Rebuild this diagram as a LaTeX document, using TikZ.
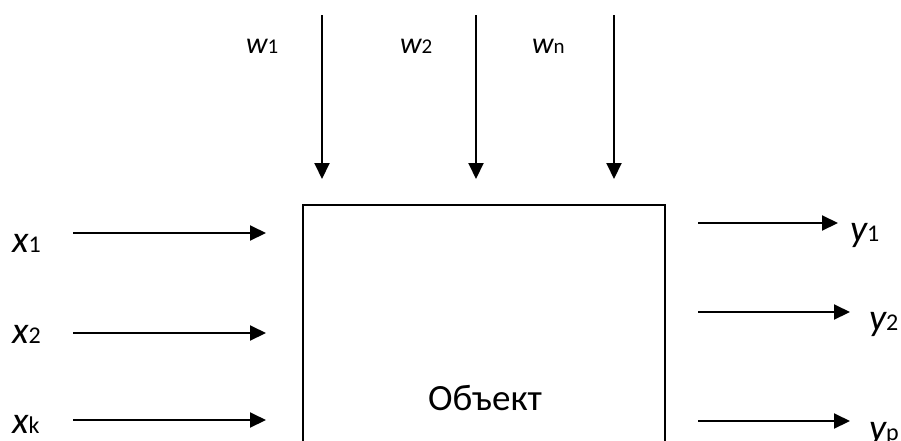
\documentclass[tikz,border=0pt]{standalone}
\usepackage{fontspec}
\setmainfont{Carlito}
\usetikzlibrary{arrows.meta}
\newcommand{\biglbl}[2]{{\fontsize{38}{40}\selectfont\itshape #1}{\fontsize{24}{26}\selectfont #2}}
\newcommand{\smlbl}[2]{{\fontsize{30}{32}\selectfont\itshape #1}{\fontsize{21}{22}\selectfont #2}}
\begin{document}
\begin{tikzpicture}[x=1pt,y=-1pt,
  arr/.style={line width=2pt,-{Triangle[length=16pt,width=15pt]}},
  lbl/.style={anchor=base west,inner sep=0pt,text depth=0pt}]
\useasboundingbox (0,0) rectangle (901,440);
\clip (0,0) rectangle (901,440);
% object box
\draw[line width=1.3pt] (303,205) rectangle (665,480);
\node[anchor=base,inner sep=0pt,font=\fontsize{37}{40}\selectfont] (obj) at (485,410) {Объект};
% connector end points
\coordinate (x1s) at (73,233);  \coordinate (x1e) at (266,233);
\coordinate (x2s) at (73,333);  \coordinate (x2e) at (266,333);
\coordinate (xks) at (73,420);  \coordinate (xke) at (266,420);
\coordinate (y1s) at (698,223); \coordinate (y1e) at (838,223);
\coordinate (y2s) at (698,312); \coordinate (y2e) at (850,312);
\coordinate (yps) at (698,421); \coordinate (ype) at (850,421);
\coordinate (w1s) at (322,15);  \coordinate (w1e) at (322,179);
\coordinate (w2s) at (476,15);  \coordinate (w2e) at (476,179);
\coordinate (wns) at (614,15);  \coordinate (wne) at (614,179);
\draw[arr] (x1s) -- (x1e);
\draw[arr] (x2s) -- (x2e);
\draw[arr] (xks) -- (xke);
\draw[arr] (y1s) -- (y1e);
\draw[arr] (y2s) -- (y2e);
\draw[arr] (yps) -- (ype);
\draw[arr] (w1s) -- (w1e);
\draw[arr] (w2s) -- (w2e);
\draw[arr] (wns) -- (wne);
% labels
\node[lbl] (lx1) at (12,252) {\biglbl{x}{1}};
\node[lbl] (lx2) at (12,343) {\biglbl{x}{2}};
\node[lbl] (lxk) at (12,433) {\biglbl{x}{k}};
\node[lbl] (ly1) at (850,241) {\biglbl{y}{1}};
\node[lbl] (ly2) at (869,330) {\biglbl{y}{2}};
\node[lbl] (lyp) at (869,440) {\biglbl{y}{p}};
\node[lbl] (lw1) at (246,53) {\smlbl{w}{1}};
\node[lbl] (lw2) at (400,53) {\smlbl{w}{2}};
\node[lbl] (lwn) at (532,53) {\smlbl{w}{n}};
\end{tikzpicture}
\end{document}
